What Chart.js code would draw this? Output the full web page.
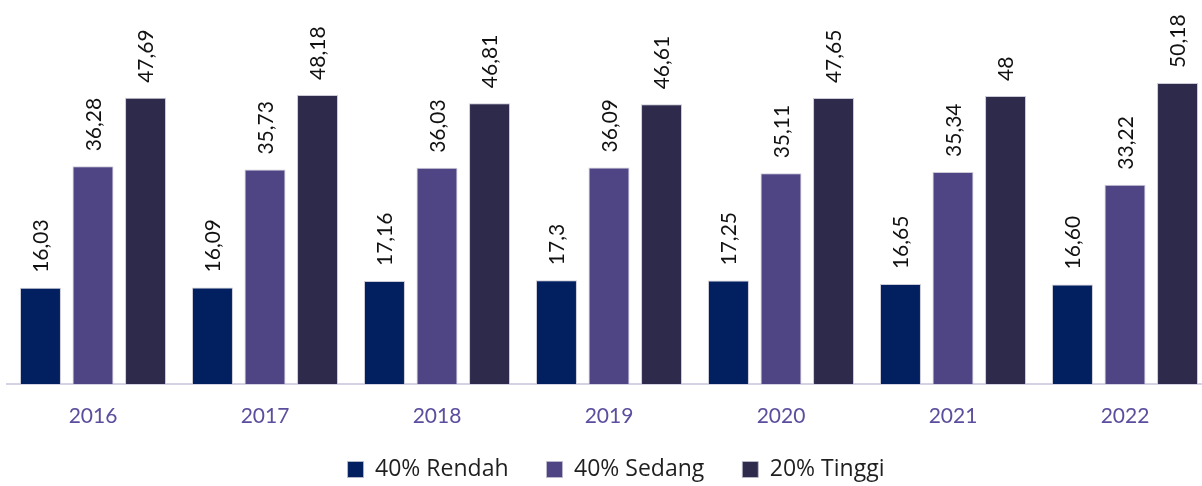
<!DOCTYPE html>
<html>
<head>
<meta charset="utf-8">
<script src="https://cdn.jsdelivr.net/npm/chart.js@4/dist/chart.umd.min.js"></script>
<style>
html,body{margin:0;padding:0;background:#fff;overflow:hidden;}
#wrap{position:relative;width:1218px;height:501px;}
</style>
</head>
<body>
<div id="wrap"><canvas id="c"></canvas></div>
<script>
const categories = ["2016","2017","2018","2019","2020","2021","2022"];
const seriesNames = ["40% Rendah","40% Sedang","20% Tinggi"];
const rendah = [16.03,16.09,17.16,17.3,17.25,16.65,16.60];
const sedang = [36.28,35.73,36.03,36.09,35.11,35.34,33.22];
const tinggi = [47.69,48.18,46.81,46.61,47.65,48,50.18];
const rendahLabels = ["16,03","16,09","17,16","17,3","17,25","16,65","16,60"];
const sedangLabels = ["36,28","35,73","36,03","36,09","35,11","35,34","33,22"];
const tinggiLabels = ["47,69","48,18","46,81","46,61","47,65","48","50,18"];
const colors = ["#022060","#4f4585","#2e2a4c"];

const FONT = "Lato, 'Open Sans', sans-serif";
const LFONT = "'Open Sans', Lato, sans-serif";

const valueLabels = {
  id:'valueLabels',
  afterDatasetsDraw(chart){
    const ctx = chart.ctx;
    chart.data.datasets.forEach((ds,i)=>{
      const meta = chart.getDatasetMeta(i);
      meta.data.forEach((bar,j)=>{
        ctx.save();
        ctx.translate(bar.x, bar.y - 15);
        ctx.rotate(-Math.PI/2);
        ctx.font = "21px " + FONT;
        ctx.fillStyle = "#111";
        ctx.textAlign = "left";
        ctx.textBaseline = "middle";
        ctx.fillText(ds.valueLabels[j], 0, 1);
        ctx.restore();
      });
    });
  }
};

const legendShift = {
  id:'legendShift',
  afterLayout(chart){
    const lg = chart.legend;
    if(lg){ lg.left += 7; lg.right += 7; lg.top -= 10; lg.bottom -= 10; }
  }
};

new Chart(document.getElementById('c'), {
  type:'bar',
  data:{
    labels: categories,
    datasets:[
      {label:seriesNames[0], data:rendah, valueLabels:rendahLabels, backgroundColor:colors[0]},
      {label:seriesNames[1], data:sedang, valueLabels:sedangLabels, backgroundColor:colors[1]},
      {label:seriesNames[2], data:tinggi, valueLabels:tinggiLabels, backgroundColor:colors[2]}
    ].map(d=>Object.assign(d,{borderColor:'rgba(190,190,205,0.8)',borderWidth:1,borderSkipped:'bottom',categoryPercentage:0.916,barPercentage:0.78}))
  },
  options:{
    responsive:true,
    maintainAspectRatio:false,
    animation:false,
    devicePixelRatio:1,
    layout:{padding:{left:7,right:7,top:24,bottom:0}},
    plugins:{
      legend:{
        position:'bottom',
        labels:{
          font:{family:LFONT,size:23},
          color:'#1f1f1f',
          boxWidth:16,
          boxHeight:16,
          padding:38
        }
      },
      tooltip:{enabled:false}
    },
    scales:{
      x:{
        grid:{display:false,drawTicks:false},
        border:{display:true,color:'#d6d2e6',width:2},
        ticks:{font:{family:FONT,size:21},color:'#5b4e9e',padding:20},
        afterFit(s){ s.height = 46; }
      },
      y:{
        display:false,
        min:0,
        max:60
      }
    }
  },
  plugins:[valueLabels, legendShift]
});
</script>
</body>
</html>
